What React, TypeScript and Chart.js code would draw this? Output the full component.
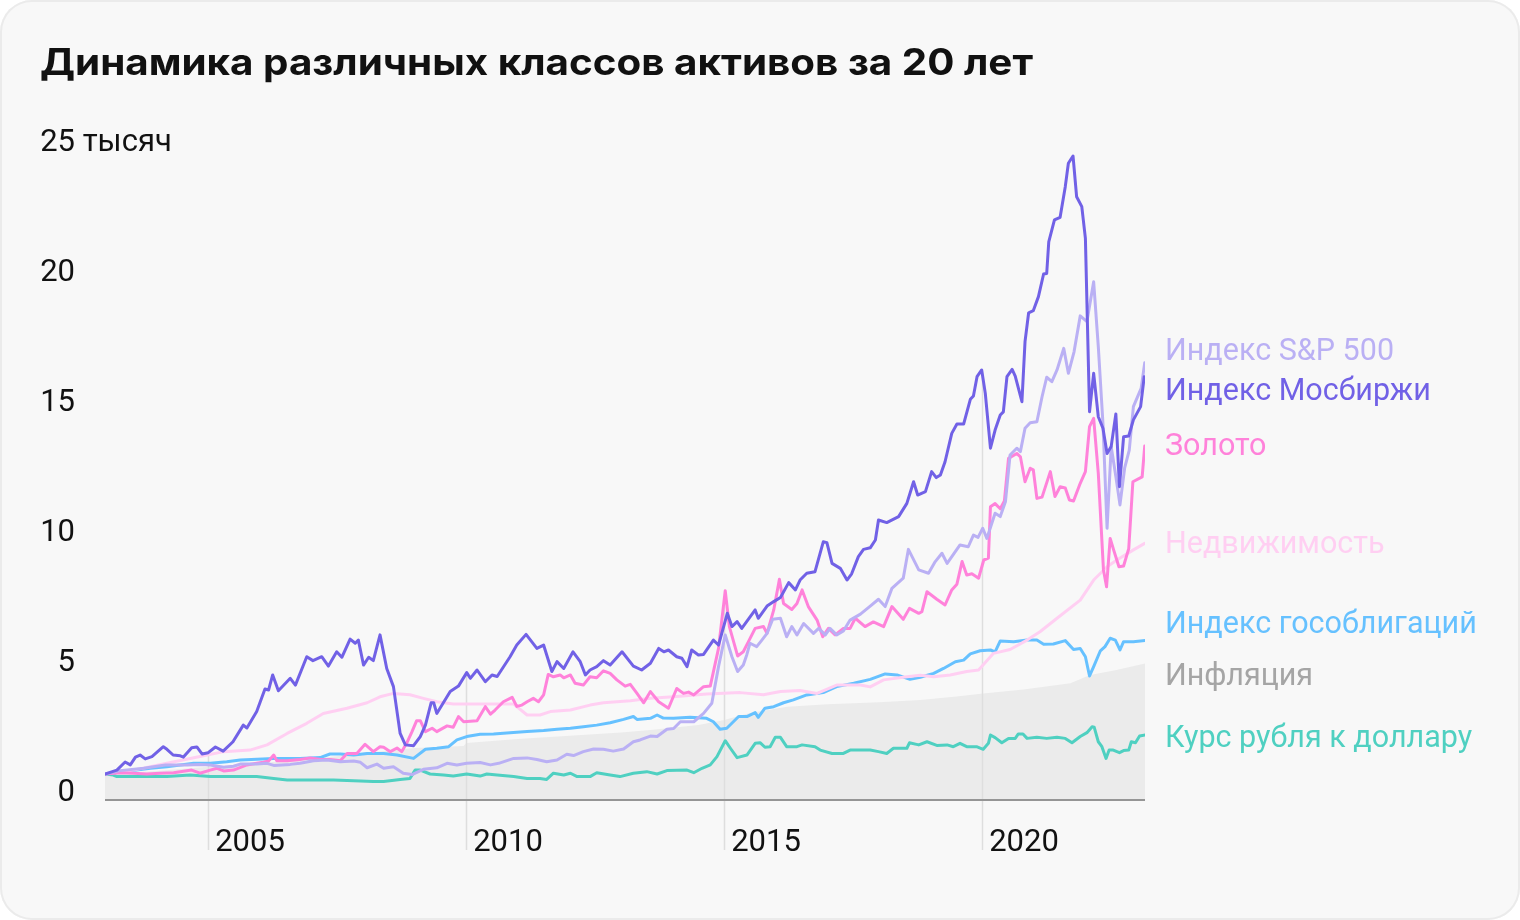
import React, { useEffect, useRef } from "react";
import { Chart, registerables } from "chart.js";

Chart.register(...registerables);

// ---------- DATA ----------
const TITLE = "Динамика различных классов активов за 20 лет";
const yTickValues = [0, 5, 10, 15, 20, 25];
const yTickLabels = ["0", "5", "10", "15", "20", "25"];
const yUnit = "тысяч";
const xTickYears = [2005, 2010, 2015, 2020];
const xTickLabels = ["2005", "2010", "2015", "2020"];

// [year, value in thousands of rubles]
const moexIndex: [number, number][] = [
  [2003.0, 1.0], [2003.23, 1.15], [2003.39, 1.46], [2003.49, 1.35], [2003.59, 1.65], [2003.68, 1.73], [2003.78, 1.58], [2003.91, 1.67],
  [2004.13, 2.05], [2004.2, 1.95], [2004.32, 1.73], [2004.46, 1.7], [2004.52, 1.65], [2004.68, 2.01], [2004.78, 2.04], [2004.88, 1.77],
  [2005.0, 1.82], [2005.14, 2.04], [2005.29, 1.88], [2005.48, 2.24], [2005.68, 2.88], [2005.75, 2.77], [2005.94, 3.4], [2006.1, 4.27],
  [2006.17, 4.23], [2006.25, 4.81], [2006.36, 4.2], [2006.59, 4.68], [2006.69, 4.42], [2006.91, 5.51], [2007.03, 5.36], [2007.2, 5.51],
  [2007.33, 5.15], [2007.49, 5.7], [2007.59, 5.49], [2007.75, 6.19], [2007.85, 6.03], [2007.91, 6.15], [2008.01, 5.19], [2008.11, 5.49],
  [2008.2, 5.36], [2008.33, 6.35], [2008.46, 5.06], [2008.59, 4.36], [2008.72, 2.56], [2008.82, 2.12], [2008.98, 2.09], [2009.11, 2.44],
  [2009.21, 2.88], [2009.32, 3.74], [2009.37, 3.74], [2009.43, 3.33], [2009.69, 4.17], [2009.85, 4.38], [2010.01, 4.9], [2010.08, 4.68],
  [2010.21, 5.0], [2010.37, 4.55], [2010.5, 4.81], [2010.6, 4.75], [2010.85, 5.51], [2010.98, 5.96], [2011.16, 6.37], [2011.37, 5.83],
  [2011.5, 5.96], [2011.66, 4.94], [2011.76, 5.32], [2011.89, 5.06], [2012.07, 5.7], [2012.21, 5.32], [2012.31, 4.81], [2012.4, 5.0],
  [2012.53, 5.13], [2012.66, 5.36], [2012.79, 5.19], [2013.02, 5.7], [2013.24, 5.15], [2013.4, 5.0], [2013.57, 5.26], [2013.73, 5.83],
  [2013.83, 5.7], [2013.92, 5.77], [2014.08, 5.51], [2014.18, 5.45], [2014.28, 5.13], [2014.37, 5.77], [2014.5, 5.58], [2014.6, 5.6],
  [2014.79, 6.15], [2014.89, 5.96], [2015.06, 7.18], [2015.15, 6.67], [2015.25, 6.86], [2015.34, 6.6], [2015.6, 7.31], [2015.66, 6.99],
  [2015.83, 7.46], [2015.96, 7.63], [2016.09, 7.79], [2016.25, 8.36], [2016.38, 8.08], [2016.47, 8.46], [2016.6, 8.72], [2016.76, 8.78],
  [2016.92, 9.93], [2016.99, 9.9], [2017.09, 9.1], [2017.25, 8.91], [2017.38, 8.46], [2017.47, 8.7], [2017.6, 9.36], [2017.7, 9.64],
  [2017.83, 9.7], [2017.93, 10.0], [2017.99, 10.77], [2018.15, 10.67], [2018.38, 10.9], [2018.54, 11.41], [2018.67, 12.24], [2018.75, 11.73],
  [2018.9, 11.86], [2019.02, 12.63], [2019.11, 12.4], [2019.19, 12.5], [2019.28, 13.01], [2019.41, 14.1], [2019.51, 14.46], [2019.64, 14.46],
  [2019.77, 15.41], [2019.83, 15.54], [2019.9, 16.28], [2019.99, 16.54], [2020.06, 15.64], [2020.16, 13.53], [2020.25, 14.23], [2020.35, 14.81],
  [2020.41, 14.93], [2020.48, 16.28], [2020.58, 16.56], [2020.64, 16.3], [2020.77, 15.32], [2020.83, 17.63], [2020.9, 18.74], [2020.99, 18.82],
  [2021.09, 19.36], [2021.19, 20.23], [2021.25, 20.25], [2021.29, 21.47], [2021.4, 22.31], [2021.51, 22.41], [2021.61, 23.59], [2021.67, 24.49],
  [2021.76, 24.77], [2021.83, 23.2], [2021.93, 22.82], [2022.0, 21.6], [2022.08, 14.93], [2022.16, 16.41], [2022.25, 14.74], [2022.34, 14.3],
  [2022.42, 13.33], [2022.5, 13.6], [2022.59, 14.85], [2022.66, 12.05], [2022.74, 13.97], [2022.84, 14.0], [2022.93, 14.62], [2023.07, 15.13],
  [2023.14, 16.28],
];

const sp500: [number, number][] = [
  [2003.0, 1.0], [2003.29, 1.13], [2003.75, 1.22], [2004.17, 1.35], [2004.59, 1.35], [2004.84, 1.37], [2005.04, 1.35], [2005.3, 1.26],
  [2005.49, 1.3], [2005.62, 1.38], [2005.94, 1.38], [2006.14, 1.41], [2006.27, 1.33], [2006.59, 1.37], [2006.78, 1.41], [2007.04, 1.51],
  [2007.3, 1.54], [2007.56, 1.47], [2007.82, 1.5], [2007.95, 1.45], [2008.08, 1.24], [2008.27, 1.38], [2008.4, 1.22], [2008.59, 1.28],
  [2008.78, 1.03], [2008.95, 0.98], [2009.17, 1.18], [2009.43, 1.24], [2009.63, 1.41], [2009.82, 1.35], [2010.01, 1.41], [2010.27, 1.44],
  [2010.47, 1.35], [2010.63, 1.41], [2010.92, 1.6], [2011.18, 1.62], [2011.37, 1.56], [2011.56, 1.47], [2011.76, 1.54], [2011.95, 1.76],
  [2012.08, 1.71], [2012.27, 1.86], [2012.47, 1.96], [2012.66, 1.95], [2012.85, 1.88], [2013.05, 1.96], [2013.24, 2.24], [2013.37, 2.31],
  [2013.57, 2.46], [2013.7, 2.44], [2013.89, 2.72], [2014.02, 2.75], [2014.15, 3.01], [2014.41, 3.01], [2014.6, 3.33], [2014.76, 3.72],
  [2014.89, 5.13], [2015.02, 6.35], [2015.15, 5.51], [2015.26, 4.94], [2015.37, 5.19], [2015.44, 5.6], [2015.5, 6.03], [2015.63, 5.9],
  [2015.73, 6.15], [2015.83, 6.41], [2015.94, 6.95], [2016.09, 6.99], [2016.21, 6.28], [2016.31, 6.67], [2016.41, 6.35], [2016.54, 6.79],
  [2016.73, 6.41], [2016.83, 6.6], [2016.96, 6.35], [2017.05, 6.6], [2017.18, 6.35], [2017.31, 6.5], [2017.44, 6.92], [2017.64, 7.15],
  [2017.83, 7.46], [2017.99, 7.72], [2018.12, 7.44], [2018.25, 8.14], [2018.47, 8.53], [2018.57, 9.64], [2018.77, 8.85], [2018.96, 8.72],
  [2019.09, 9.17], [2019.22, 9.49], [2019.32, 9.1], [2019.57, 9.81], [2019.73, 9.74], [2019.83, 10.19], [2019.92, 10.1], [2020.01, 10.45],
  [2020.09, 10.06], [2020.25, 11.03], [2020.35, 10.9], [2020.45, 11.47], [2020.54, 13.27], [2020.67, 13.53], [2020.74, 13.4], [2020.83, 14.3],
  [2020.93, 14.51], [2021.06, 14.55], [2021.16, 15.51], [2021.25, 16.26], [2021.35, 16.09], [2021.45, 16.54], [2021.58, 17.37], [2021.67, 16.41],
  [2021.78, 17.24], [2021.9, 18.62], [2022.03, 18.4], [2022.16, 19.93], [2022.25, 17.44], [2022.34, 14.49], [2022.42, 10.45], [2022.5, 13.59],
  [2022.59, 12.44], [2022.67, 11.35], [2022.76, 12.76], [2022.85, 13.46], [2022.93, 15.13], [2023.08, 15.83], [2023.15, 16.82],
];

const gold: [number, number][] = [
  [2003.0, 1.0], [2003.29, 1.05], [2003.55, 1.03], [2003.81, 1.0], [2004.07, 1.03], [2004.33, 1.05], [2004.68, 1.15], [2004.84, 1.03],
  [2005.04, 1.15], [2005.17, 1.22], [2005.3, 1.12], [2005.49, 1.15], [2005.75, 1.35], [2005.94, 1.41], [2006.07, 1.45], [2006.17, 1.5],
  [2006.27, 1.73], [2006.33, 1.51], [2006.53, 1.51], [2006.78, 1.56], [2006.98, 1.62], [2007.17, 1.56], [2007.36, 1.56], [2007.56, 1.51],
  [2007.69, 1.79], [2007.88, 1.79], [2008.04, 2.14], [2008.2, 1.86], [2008.33, 2.05], [2008.4, 2.03], [2008.53, 1.86], [2008.66, 2.0],
  [2008.75, 1.86], [2008.85, 2.2], [2008.95, 2.63], [2009.04, 3.05], [2009.11, 3.05], [2009.21, 2.63], [2009.34, 2.76], [2009.43, 2.63],
  [2009.63, 2.85], [2009.75, 2.8], [2009.85, 3.21], [2009.95, 3.01], [2010.08, 3.03], [2010.21, 3.05], [2010.37, 3.59], [2010.47, 3.3],
  [2010.56, 3.46], [2010.72, 3.78], [2010.89, 3.95], [2010.98, 3.6], [2011.08, 3.65], [2011.18, 3.78], [2011.3, 3.91], [2011.4, 3.78],
  [2011.5, 4.04], [2011.59, 4.83], [2011.69, 4.74], [2011.82, 4.81], [2011.89, 4.7], [2012.02, 4.81], [2012.11, 4.49], [2012.27, 4.42],
  [2012.4, 4.74], [2012.53, 4.7], [2012.66, 4.97], [2012.79, 4.87], [2012.92, 4.62], [2013.08, 4.38], [2013.18, 4.45], [2013.31, 4.1],
  [2013.44, 3.74], [2013.57, 4.17], [2013.73, 3.78], [2013.92, 3.53], [2014.08, 4.29], [2014.21, 4.1], [2014.31, 4.15], [2014.41, 4.04],
  [2014.6, 4.36], [2014.73, 4.38], [2014.89, 5.83], [2015.02, 8.05], [2015.1, 6.67], [2015.26, 5.54], [2015.37, 5.7], [2015.47, 6.09],
  [2015.6, 6.6], [2015.76, 6.67], [2015.83, 6.41], [2015.96, 7.31], [2016.07, 8.49], [2016.15, 7.56], [2016.31, 7.33], [2016.41, 7.56],
  [2016.51, 8.08], [2016.63, 7.44], [2016.8, 6.92], [2016.91, 6.28], [2017.02, 6.6], [2017.15, 6.35], [2017.31, 6.6], [2017.44, 6.6],
  [2017.54, 6.99], [2017.73, 6.67], [2017.89, 6.85], [2018.09, 6.67], [2018.25, 7.44], [2018.47, 6.95], [2018.59, 7.37], [2018.77, 7.18],
  [2018.83, 7.24], [2018.93, 8.01], [2019.12, 7.72], [2019.28, 7.5], [2019.41, 8.08], [2019.51, 8.3], [2019.61, 9.17], [2019.7, 8.65],
  [2019.8, 8.7], [2019.93, 8.53], [2020.03, 9.23], [2020.12, 9.3], [2020.16, 11.28], [2020.25, 11.4], [2020.35, 11.2], [2020.43, 11.5],
  [2020.51, 13.14], [2020.67, 13.33], [2020.74, 13.2], [2020.83, 12.24], [2020.93, 12.76], [2020.99, 12.7], [2021.06, 11.6], [2021.16, 11.65],
  [2021.32, 12.63], [2021.41, 11.67], [2021.51, 12.05], [2021.61, 12.0], [2021.69, 11.54], [2021.77, 11.5], [2021.9, 12.18], [2022.0, 12.63],
  [2022.08, 14.36], [2022.16, 14.68], [2022.25, 12.56], [2022.35, 8.85], [2022.41, 8.2], [2022.48, 10.06], [2022.55, 9.6], [2022.65, 8.97],
  [2022.74, 9.0], [2022.84, 9.67], [2022.92, 12.24], [2023.1, 12.43], [2023.15, 13.62],
];

const realEstate: [number, number][] = [
  [2003.0, 1.0], [2003.55, 1.15], [2004.2, 1.41], [2004.84, 1.67], [2005.3, 1.86], [2005.81, 1.92], [2006.14, 2.12], [2006.53, 2.56],
  [2006.91, 2.95], [2007.23, 3.33], [2007.69, 3.53], [2008.08, 3.74], [2008.33, 3.97], [2008.59, 4.1], [2008.91, 4.05], [2009.17, 3.91],
  [2009.43, 3.78], [2009.75, 3.69], [2010.33, 3.69], [2010.92, 3.69], [2011.18, 3.27], [2011.43, 3.27], [2011.63, 3.4], [2012.02, 3.46],
  [2012.4, 3.65], [2012.66, 3.74], [2013.18, 3.82], [2013.57, 3.91], [2014.02, 3.97], [2014.66, 4.08], [2015.31, 4.13], [2015.76, 4.05],
  [2016.09, 4.17], [2016.47, 4.21], [2016.8, 4.1], [2017.18, 4.42], [2017.64, 4.42], [2017.83, 4.35], [2018.09, 4.62], [2018.54, 4.74],
  [2018.8, 4.8], [2019.06, 4.74], [2019.38, 4.81], [2019.7, 4.94], [2019.93, 5.0], [2020.22, 5.64], [2020.54, 5.79], [2020.87, 6.15],
  [2021.12, 6.47], [2021.45, 6.99], [2021.9, 7.69], [2022.16, 8.46], [2022.42, 8.97], [2022.61, 9.23], [2022.93, 9.62], [2023.15, 9.87],
];

const govBonds: [number, number][] = [
  [2003.0, 1.0], [2003.88, 1.22], [2004.2, 1.28], [2004.46, 1.35], [2004.72, 1.41], [2005.04, 1.41], [2005.36, 1.47], [2005.62, 1.54],
  [2006.27, 1.6], [2006.78, 1.6], [2007.17, 1.63], [2007.36, 1.77], [2007.56, 1.77], [2007.82, 1.73], [2008.08, 1.79], [2008.4, 1.79],
  [2008.66, 1.73], [2008.98, 1.6], [2009.21, 1.95], [2009.43, 1.99], [2009.66, 2.05], [2009.82, 2.31], [2010.01, 2.44], [2010.27, 2.53],
  [2010.53, 2.54], [2010.85, 2.59], [2011.18, 2.63], [2011.5, 2.67], [2011.76, 2.72], [2012.02, 2.76], [2012.27, 2.82], [2012.53, 2.88],
  [2012.79, 2.97], [2013.05, 3.1], [2013.24, 3.21], [2013.31, 3.1], [2013.57, 3.14], [2013.7, 3.27], [2013.82, 3.15], [2014.02, 3.14],
  [2014.34, 3.18], [2014.66, 3.14], [2014.79, 3.01], [2014.92, 2.72], [2015.05, 2.76], [2015.28, 3.21], [2015.44, 3.21], [2015.6, 3.36],
  [2015.66, 3.18], [2015.79, 3.53], [2015.96, 3.59], [2016.15, 3.74], [2016.34, 3.85], [2016.6, 4.04], [2016.92, 4.13], [2017.18, 4.36],
  [2017.51, 4.49], [2017.83, 4.64], [2018.12, 4.85], [2018.35, 4.81], [2018.6, 4.64], [2018.8, 4.72], [2019.06, 4.87], [2019.25, 5.06],
  [2019.48, 5.32], [2019.64, 5.38], [2019.77, 5.62], [2019.96, 5.74], [2020.16, 5.77], [2020.25, 5.7], [2020.35, 6.12], [2020.61, 6.09],
  [2020.87, 6.15], [2021.06, 6.15], [2021.19, 5.99], [2021.38, 6.0], [2021.61, 6.13], [2021.77, 5.79], [2021.9, 5.83], [2022.0, 5.51],
  [2022.08, 4.77], [2022.16, 5.13], [2022.29, 5.74], [2022.38, 5.9], [2022.48, 6.22], [2022.58, 6.15], [2022.67, 5.77], [2022.74, 6.09],
  [2022.93, 6.09], [2023.16, 6.14],
];

const inflation: [number, number][] = [
  [2003.0, 1.0], [2004.0, 1.12], [2005.0, 1.28], [2006.0, 1.42], [2007.0, 1.58], [2008.0, 1.8], [2009.0, 2.0], [2009.95, 2.08],
  [2010.0, 2.19], [2011.0, 2.35], [2012.0, 2.47], [2013.0, 2.6], [2013.57, 2.69], [2014.5, 2.88], [2015.0, 3.08], [2015.5, 3.35],
  [2016.22, 3.59], [2017.0, 3.68], [2018.0, 3.76], [2018.8, 3.85], [2019.5, 3.98], [2020.02, 4.1], [2020.8, 4.25], [2021.71, 4.49],
  [2022.09, 4.81], [2022.6, 5.0], [2023.16, 5.25],
];

const rubUsd: [number, number][] = [
  [2003.0, 1.0], [2003.16, 0.96], [2003.23, 0.9], [2004.2, 0.9], [2004.65, 0.96], [2005.04, 0.9], [2005.94, 0.9], [2006.27, 0.83],
  [2006.53, 0.77], [2007.43, 0.77], [2007.95, 0.73], [2008.2, 0.71], [2008.4, 0.71], [2008.72, 0.79], [2008.91, 0.83], [2009.01, 1.15],
  [2009.11, 1.15], [2009.3, 1.0], [2009.56, 0.96], [2009.75, 0.92], [2010.01, 1.0], [2010.27, 0.92], [2010.4, 1.0], [2010.6, 0.96],
  [2010.92, 0.9], [2011.18, 0.83], [2011.43, 0.83], [2011.56, 0.79], [2011.69, 1.03], [2011.89, 0.96], [2012.02, 1.03], [2012.15, 0.9],
  [2012.4, 0.9], [2012.53, 1.05], [2012.79, 0.96], [2012.98, 0.9], [2013.24, 1.03], [2013.5, 1.09], [2013.7, 1.0], [2013.89, 1.13],
  [2014.28, 1.15], [2014.41, 1.05], [2014.57, 1.22], [2014.73, 1.35], [2014.86, 1.67], [2015.02, 2.28], [2015.12, 1.99], [2015.25, 1.63],
  [2015.44, 1.73], [2015.6, 2.18], [2015.7, 2.2], [2015.79, 2.03], [2015.89, 2.05], [2015.99, 2.41], [2016.09, 2.41], [2016.21, 2.05],
  [2016.41, 2.05], [2016.51, 2.12], [2016.76, 2.05], [2016.86, 1.92], [2017.09, 1.79], [2017.31, 1.79], [2017.44, 1.92], [2017.83, 1.92],
  [2017.99, 1.86], [2018.15, 1.79], [2018.28, 1.99], [2018.54, 1.99], [2018.59, 2.2], [2018.77, 2.12], [2018.93, 2.24], [2019.12, 2.1],
  [2019.32, 2.12], [2019.44, 2.05], [2019.57, 2.18], [2019.7, 2.05], [2019.89, 2.05], [2020.02, 1.95], [2020.12, 2.18], [2020.16, 2.5],
  [2020.25, 2.4], [2020.38, 2.2], [2020.51, 2.37], [2020.64, 2.37], [2020.7, 2.54], [2020.79, 2.54], [2020.87, 2.37], [2021.06, 2.41],
  [2021.25, 2.37], [2021.45, 2.41], [2021.61, 2.37], [2021.74, 2.2], [2021.9, 2.44], [2022.03, 2.59], [2022.13, 2.82], [2022.17, 2.8],
  [2022.25, 2.24], [2022.32, 2.05], [2022.4, 1.6], [2022.46, 1.92], [2022.54, 1.92], [2022.66, 1.82], [2022.74, 1.9], [2022.84, 1.92],
  [2022.89, 2.24], [2022.97, 2.2], [2023.05, 2.46], [2023.16, 2.5],
];

const seriesNames = [
  "Индекс S&P 500",
  "Индекс Мосбиржи",
  "Золото",
  "Недвижимость",
  "Индекс гособлигаций",
  "Инфляция",
  "Курс рубля к доллару",
];

// ---------- STYLE / LAYOUT ----------
const COLORS: Record<string, string> = {
  "Индекс S&P 500": "#bab0f4",
  "Индекс Мосбиржи": "#7161e6",
  "Золото": "#ff82da",
  "Недвижимость": "#ffcff2",
  "Индекс гособлигаций": "#66c1ff",
  "Инфляция": "#ebebeb",
  "Курс рубля к доллару": "#4fd0c1",
};
const LABEL_COLORS: Record<string, string> = {
  ...COLORS,
  "Инфляция": "#a5a5a5",
};
// label baseline expressed in axis units
const LABEL_AT: Record<string, number> = {
  "Индекс S&P 500": 16.92,
  "Индекс Мосбиржи": 15.38,
  "Золото": 13.27,
  "Недвижимость": 9.5,
  "Индекс гособлигаций": 6.42,
  "Инфляция": 4.42,
  "Курс рубля к доллару": 2.04,
};

const FONT = "Roboto, 'Noto Sans', sans-serif";
const TITLE_FONT = "Inter, Roboto, sans-serif";
const TITLE_LEFT = 40;
const TITLE_RIGHT = 1033;

function valueAt(data: [number, number][], t: number): number | null {
  for (let i = 1; i < data.length; i++) {
    if (data[i][0] >= t) {
      const [t0, v0] = data[i - 1];
      const [t1, v1] = data[i];
      return v0 + ((v1 - v0) * (t - t0)) / (t1 - t0);
    }
  }
  return null;
}

const lineSeries: [number, number][][] = [moexIndex, sp500, gold, realEstate, govBonds, rubUsd];

const decorPlugin = {
  id: "decor",
  afterDatasetDraw(chart: any, args: any) {
    if (args.index !== 0) return; // inflation area drawn first
    const { ctx, chartArea, scales } = chart;
    ctx.save();
    ctx.strokeStyle = "#dedede";
    ctx.lineWidth = 1.5;
    xTickYears.forEach((yr) => {
      let maxV = 0;
      lineSeries.forEach((s) => {
        const v = valueAt(s, yr);
        if (v !== null && v > maxV) maxV = v;
      });
      const x = Math.round(scales.x.getPixelForValue(yr)) + 0.5;
      ctx.beginPath();
      ctx.moveTo(x, scales.y.getPixelForValue(maxV));
      ctx.lineTo(x, chartArea.bottom + 50);
      ctx.stroke();
    });
    ctx.restore();
  },
  afterDatasetsDraw(chart: any) {
    const { ctx, chartArea, scales } = chart;
    ctx.save();
    // baseline
    ctx.strokeStyle = "#959595";
    ctx.lineWidth = 2;
    ctx.beginPath();
    ctx.moveTo(chartArea.left, chartArea.bottom);
    ctx.lineTo(chartArea.right, chartArea.bottom);
    ctx.stroke();

    // title (fitted to the reference width)
    ctx.fillStyle = "#111111";
    ctx.textBaseline = "alphabetic";
    ctx.textAlign = "left";
    ctx.font = `700 37px ${TITLE_FONT}`;
    const w = ctx.measureText(TITLE).width;
    const sx = (TITLE_RIGHT - TITLE_LEFT) / w;
    ctx.save();
    ctx.translate(TITLE_LEFT, 75);
    ctx.scale(sx, 1);
    ctx.fillText(TITLE, 0, 0);
    ctx.restore();

    // y tick labels
    ctx.font = `400 31px ${FONT}`;
    yTickValues.forEach((v, i) => {
      const y = scales.y.getPixelForValue(v) + 1;
      ctx.textAlign = "right";
      ctx.fillText(yTickLabels[i], chartArea.left - 30, y);
      if (i === yTickValues.length - 1) {
        ctx.textAlign = "left";
        ctx.fillText(" " + yUnit, chartArea.left - 30, y);
      }
    });

    // x tick labels
    ctx.textAlign = "left";
    xTickYears.forEach((yr, i) => {
      const x = scales.x.getPixelForValue(yr) + 7;
      ctx.fillText(xTickLabels[i], x, chartArea.bottom + 51);
    });

    // series labels
    ctx.font = `400 30.5px ${FONT}`;
    seriesNames.forEach((name) => {
      ctx.fillStyle = LABEL_COLORS[name];
      ctx.fillText(name, chartArea.right + 20, scales.y.getPixelForValue(LABEL_AT[name]));
    });
    ctx.restore();
  },
};

export default function App() {
  const canvasRef = useRef<HTMLCanvasElement | null>(null);

  useEffect(() => {
    document.body.style.margin = "0";
    document.body.style.background = "#ffffff";
    const canvas = canvasRef.current;
    if (!canvas) return;

    const mk = (name: string, data: [number, number][], order: number, extra: any = {}) => ({
      label: name,
      data: data.map(([x, y]) => ({ x, y })),
      borderColor: COLORS[name],
      backgroundColor: COLORS[name],
      borderWidth: 3,
      pointRadius: 0,
      tension: 0,
      fill: false,
      order,
      ...extra,
    });

    const datasets = [
      mk("Инфляция", inflation, 10, { fill: "origin", borderWidth: 0, borderColor: "rgba(0,0,0,0)" }),
      mk("Курс рубля к доллару", rubUsd, 6),
      mk("Индекс гособлигаций", govBonds, 5),
      mk("Недвижимость", realEstate, 4),
      mk("Золото", gold, 3),
      mk("Индекс S&P 500", sp500, 2),
      mk("Индекс Мосбиржи", moexIndex, 1),
    ];

    const chart = new Chart(canvas, {
      type: "line",
      data: { datasets } as any,
      options: {
        animation: false,
        responsive: false,
        devicePixelRatio: 1,
        layout: { padding: { left: 105, right: 375, top: 150, bottom: 120 } },
        scales: {
          x: { type: "linear", min: 2003, max: 2023.155, display: false },
          y: { type: "linear", min: 0, max: 25, display: false },
        },
        elements: {
          line: { borderJoinStyle: "round", borderCapStyle: "round" },
        },
        plugins: {
          legend: { display: false },
          tooltip: { enabled: false },
          title: { display: false },
        },
      } as any,
      plugins: [decorPlugin],
    });
    return () => chart.destroy();
  }, []);

  return (
    <div
      style={{
        position: "relative",
        width: 1520,
        height: 920,
        borderRadius: 32,
        background: "#f8f8f8",
        boxShadow: "inset 0 0 0 2px #ebebeb",
        overflow: "hidden",
      }}
    >
      <canvas ref={canvasRef} width={1520} height={920} style={{ position: "absolute", left: 0, top: 0 }} />
    </div>
  );
}
